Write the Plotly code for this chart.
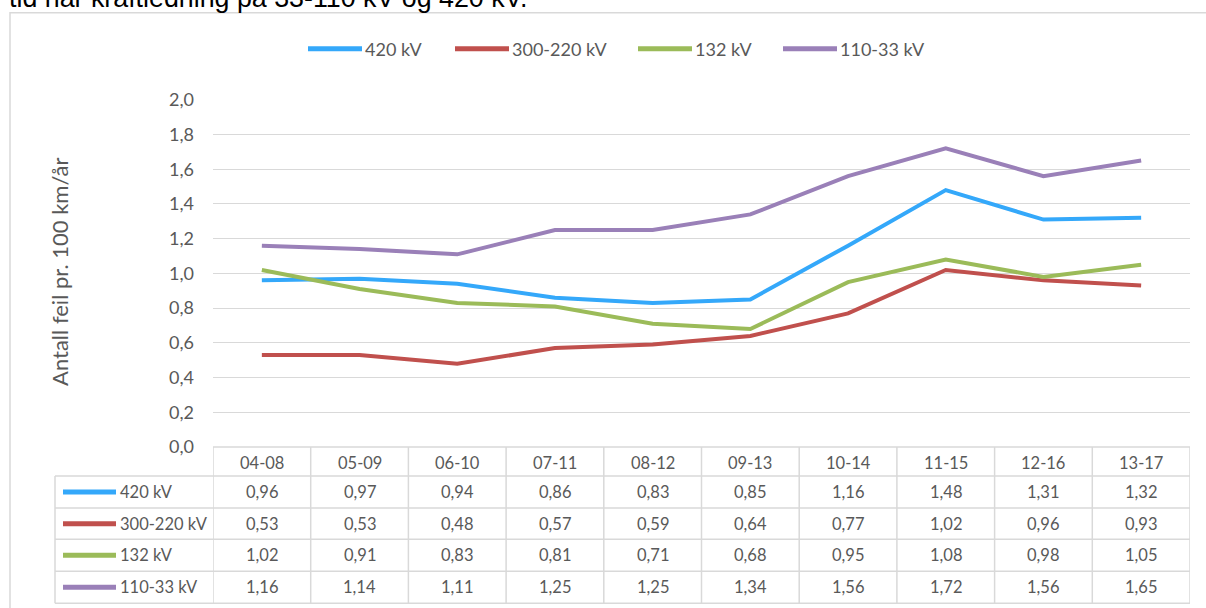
import plotly.graph_objects as go

# ---------------- data ----------------
categories = ["04-08", "05-09", "06-10", "07-11", "08-12", "09-13", "10-14", "11-15", "12-16", "13-17"]
series_names = ["420 kV", "300-220 kV", "132 kV", "110-33 kV"]
v_420 = [0.96, 0.97, 0.94, 0.86, 0.83, 0.85, 1.16, 1.48, 1.31, 1.32]
v_300_220 = [0.53, 0.53, 0.48, 0.57, 0.59, 0.64, 0.77, 1.02, 0.96, 0.93]
v_132 = [1.02, 0.91, 0.83, 0.81, 0.71, 0.68, 0.95, 1.08, 0.98, 1.05]
v_110_33 = [1.16, 1.14, 1.11, 1.25, 1.25, 1.34, 1.56, 1.72, 1.56, 1.65]
y_ticks = [0.0, 0.2, 0.4, 0.6, 0.8, 1.0, 1.2, 1.4, 1.6, 1.8, 2.0]
title_text = "tid når kraftledning på 33-110 kV og 420 kV."
y_title = "Antall feil pr. 100 km/år"

series_values = [v_420, v_300_220, v_132, v_110_33]
colors = ["#34a8fa", "#c0504d", "#9bbb59", "#9a80b8"]

# ---------------- layout helpers ----------------
W, H = 1206, 608
# the page is shown slightly compressed vertically; compensate
VA, VB = 11.3, 0.963
def px(x):
    return x / W
def py(y):
    yf = (y - VA) / VB
    return (H - yf) / H

FONT = "Lato, 'Open Sans', sans-serif"
GREY = "#595959"
GRID = "#d9d9d9"

fig = go.Figure()
for name, vals, col in zip(series_names, series_values, colors):
    fig.add_trace(go.Scatter(x=categories, y=vals, mode="lines", name=name,
                             line=dict(color=col, width=4), showlegend=False))

shapes = []
annotations = []

# outer chart frame
shapes.append(dict(type="rect", xref="paper", yref="paper", x0=px(10), x1=1.01, y0=py(640), y1=py(12),
                   line=dict(color=GRID, width=1.5), layer="below"))

# cropped title above chart
annotations.append(dict(xref="paper", yref="paper", x=px(7), y=py(-3), xanchor="left", yanchor="middle",
                        text=title_text, showarrow=False,
                        font=dict(family="'Liberation Sans', Arial, sans-serif", size=26.8, color="#000000")))

# legend (top)
leg_x = [308, 455, 638, 783]
leg_y = 48
for name, col, lx in zip(series_names, colors, leg_x):
    shapes.append(dict(type="line", xref="paper", yref="paper", x0=px(lx), x1=px(lx + 54),
                       y0=py(leg_y), y1=py(leg_y), line=dict(color=col, width=5)))
    annotations.append(dict(xref="paper", yref="paper", x=px(lx + 55), y=py(leg_y), xanchor="left",
                            yanchor="middle", text=name, showarrow=False,
                            font=dict(family=FONT, size=18, color=GREY)))

# y-axis title
annotations.append(dict(xref="paper", yref="paper", x=px(60), y=py(271), xanchor="center", yanchor="middle",
                        text=y_title, textangle=-90, showarrow=False,
                        font=dict(family=FONT, size=22, color=GREY)))

# ---------------- data table ----------------
tbl_top = 446
row_lines = [475, 507, 538, 570, 602]
lab_left = 55
n = len(categories)
TF = 16.5
shapes.append(dict(type="line", xref="x", yref="paper", x0=-0.5, x1=n - 0.5, y0=py(tbl_top), y1=py(tbl_top),
                   line=dict(color=GRID, width=1.5)))
for yl in row_lines:
    shapes.append(dict(type="line", xref="paper", yref="paper", x0=px(lab_left), x1=px(1190),
                       y0=py(yl), y1=py(yl), line=dict(color=GRID, width=1.5)))
for k in range(n + 1):
    shapes.append(dict(type="line", xref="x", yref="paper", x0=k - 0.5, x1=k - 0.5,
                       y0=py(tbl_top), y1=py(row_lines[-1]), line=dict(color=GRID, width=1.5)))
shapes.append(dict(type="line", xref="paper", yref="paper", x0=px(lab_left), x1=px(lab_left),
                   y0=py(row_lines[0]), y1=py(row_lines[-1]), line=dict(color=GRID, width=1.5)))

hdr_c = (tbl_top + row_lines[0]) / 2 + 1
for i, c in enumerate(categories):
    annotations.append(dict(xref="x", yref="paper", x=i, y=py(hdr_c), text=c, showarrow=False,
                            xanchor="center", yanchor="middle", font=dict(family=FONT, size=TF, color=GREY)))

for r, (name, vals, col) in enumerate(zip(series_names, series_values, colors)):
    yc = (row_lines[r] + row_lines[r + 1]) / 2
    shapes.append(dict(type="line", xref="paper", yref="paper", x0=px(63), x1=px(116),
                       y0=py(yc), y1=py(yc), line=dict(color=col, width=5)))
    annotations.append(dict(xref="paper", yref="paper", x=px(118), y=py(yc), xanchor="left", yanchor="middle",
                            text=name, showarrow=False, font=dict(family=FONT, size=TF, color=GREY)))
    for i, v in enumerate(vals):
        annotations.append(dict(xref="x", yref="paper", x=i, y=py(yc), xanchor="center", yanchor="middle",
                                text=f"{v:.2f}".replace(".", ","), showarrow=False,
                                font=dict(family=FONT, size=TF, color=GREY)))

fig.update_layout(
    width=W, height=H, autosize=False,
    margin=dict(l=0, r=0, t=0, b=0),
    paper_bgcolor="white", plot_bgcolor="white",
    separators=",.",
    font=dict(family=FONT, color=GREY),
    showlegend=False,
    xaxis=dict(domain=[px(213), px(1190)], type="category", range=[-0.5, n - 0.5],
               showticklabels=False, showgrid=False, zeroline=False, showline=False, ticks=""),
    yaxis=dict(domain=[py(446), py(99)], range=[0, 2], tickvals=y_ticks, tickformat=".1f",
               showgrid=True, gridcolor=GRID, gridwidth=1, zeroline=False, showline=False,
               ticks="", ticklabelstandoff=18, tickfont=dict(family=FONT, size=18, color=GREY)),
    shapes=shapes,
    annotations=annotations,
)

fig.write_html("out.html", config={"displayModeBar": False},
               post_script="document.documentElement.style.margin='0';document.body.style.margin='0';"
                           "document.body.style.padding='0';document.documentElement.style.overflow='hidden';"
                           "document.body.style.overflow='hidden';")
